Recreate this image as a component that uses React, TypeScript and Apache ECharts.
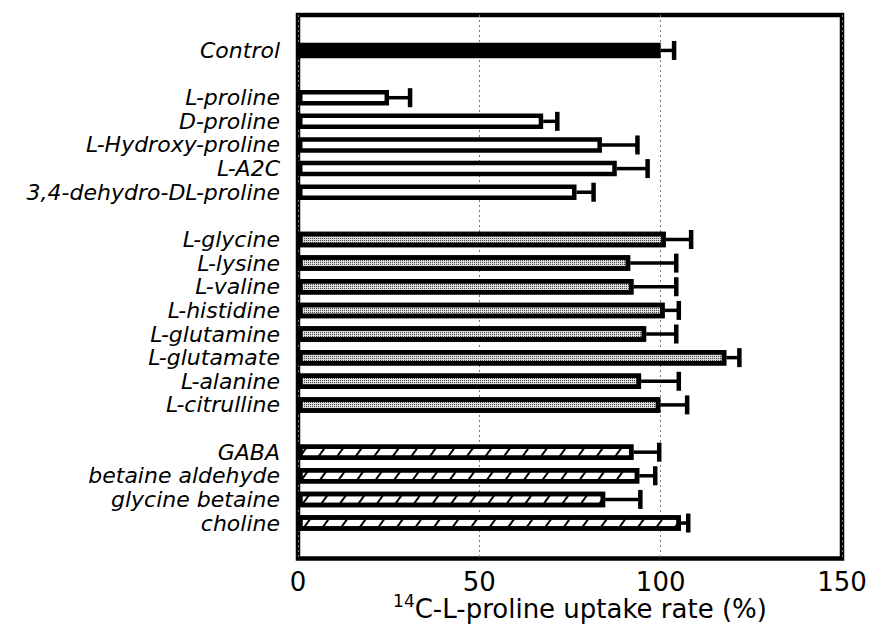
import React, { useEffect, useRef } from "react";
import * as echarts from "echarts";

// Category slots (blank slots are spacer rows)
const categories = [
  "", "Control", " ",
  "L-proline", "D-proline", "L-Hydroxy-proline", "L-A2C", "3,4-dehydro-DL-proline", "  ",
  "L-glycine", "L-lysine", "L-valine", "L-histidine", "L-glutamine", "L-glutamate", "L-alanine", "L-citrulline", "   ",
  "GABA", "betaine aldehyde", "glycine betaine", "choline", "    ",
];

const controlNames = ["Control"];
const controlValues = [100];
const controlErrors = [3.7];

const prolineNames = ["L-proline", "D-proline", "L-Hydroxy-proline", "L-A2C", "3,4-dehydro-DL-proline"];
const prolineValues = [25.1, 67.6, 83.8, 87.9, 76.8];
const prolineErrors = [5.8, 3.9, 9.8, 8.5, 4.7];

const aminoNames = ["L-glycine", "L-lysine", "L-valine", "L-histidine", "L-glutamine", "L-glutamate", "L-alanine", "L-citrulline"];
const aminoValues = [101.4, 91.6, 92.5, 101.1, 96.0, 118.1, 94.6, 99.9];
const aminoErrors = [7.0, 12.7, 11.8, 3.9, 8.3, 3.6, 10.4, 7.4];

const osmoNames = ["GABA", "betaine aldehyde", "glycine betaine", "choline"];
const osmoValues = [92.5, 94.1, 84.7, 105.6];
const osmoErrors = [7.1, 4.4, 9.7, 2.0];

const xTicks = [0, 50, 100, 150];

const FONT = "DejaVu Sans";

function toSlots(names: string[], values: number[]) {
  return categories.map((c) => {
    const i = names.indexOf(c);
    return i >= 0 ? values[i] : "-";
  });
}

export default function App() {
  const ref = useRef<HTMLDivElement>(null);
  useEffect(() => {
    if (!ref.current) return;
    const chart = echarts.init(ref.current, null, { renderer: "svg" });

    const errData: any[] = [];
    const addErr = (n: string[], v: number[], e: number[]) =>
      n.forEach((name, i) => errData.push([v[i], name, e[i]]));
    addErr(controlNames, controlValues, controlErrors);
    addErr(prolineNames, prolineValues, prolineErrors);
    addErr(aminoNames, aminoValues, aminoErrors);
    addErr(osmoNames, osmoValues, osmoErrors);

    const barCommon = {
      type: "bar",
      barWidth: 15.5,
      barGap: "-100%",
      silent: true,
    };

    chart.setOption({
      animation: false,
      backgroundColor: "#fff",
      grid: {
        left: 298,
        right: 28,
        top: 15,
        bottom: 70.5,
        containLabel: false,
        outerBoundsMode: "none",
        show: true,
        borderColor: "#000",
        borderWidth: 4.5,
        backgroundColor: "transparent",
      },
      xAxis: {
        type: "value",
        min: xTicks[0],
        max: xTicks[xTicks.length - 1],
        interval: 50,
        axisLine: { show: false },
        axisTick: { show: false },
        axisLabel: { fontSize: 26, lineHeight: 20, color: "#000", fontFamily: FONT, margin: 13 },
        splitLine: { show: true, lineStyle: { type: [2, 3], color: "#777", width: 1 } },
        name: "{sup|14}C-L-proline uptake rate (%)",
        nameLocation: "middle",
        nameGap: 33.5,
        nameMoveOverlap: false,
        nameTextStyle: {
          fontSize: 26,
          lineHeight: 34,
          color: "#000",
          fontFamily: FONT,
          padding: [0, 0, 0, 20],
          rich: {
            sup: { fontSize: 17, lineHeight: 5, verticalAlign: "top", color: "#000", fontFamily: FONT },
          },
        },
      },
      yAxis: {
        type: "category",
        data: categories,
        inverse: true,
        axisLine: { show: false },
        axisTick: { show: false },
        splitLine: { show: false },
        axisLabel: {
          interval: 0,
          fontSize: 22,
          fontStyle: "italic",
          color: "#000",
          fontFamily: FONT,
          margin: 18,
        },
      },
      series: [
        {
          ...barCommon,
          data: toSlots(controlNames, controlValues),
          itemStyle: { color: "#000", borderColor: "#000", borderWidth: 4.5 },
        },
        {
          ...barCommon,
          data: toSlots(prolineNames, prolineValues),
          itemStyle: { color: "#fff", borderColor: "#000", borderWidth: 4.5 },
        },
        {
          ...barCommon,
          data: toSlots(aminoNames, aminoValues),
          itemStyle: {
            color: "#dcdcdc",
            borderColor: "#000",
            borderWidth: 4.5,
            decal: {
              symbol: "rect",
              symbolSize: 1,
              dashArrayX: [1, 1],
              dashArrayY: [1, 1],
              color: "#444",
              rotation: 0,
            },
          },
        },
        {
          ...barCommon,
          data: toSlots(osmoNames, osmoValues),
          itemStyle: {
            color: "#fff",
            borderColor: "#000",
            borderWidth: 4.5,
            decal: {
              symbol: "rect",
              symbolSize: 1,
              dashArrayX: [[1, 0]],
              dashArrayY: [2, 13],
              color: "#000",
              rotation: -Math.PI * 0.3,
            },
          },
        },
        {
          type: "custom",
          silent: true,
          data: errData,
          encode: { x: 0, y: 1 },
          z: 3,
          renderItem: (params: any, api: any) => {
            const v = api.value(0);
            const cat = api.value(1);
            const e = api.value(2);
            const start = api.coord([v, cat]);
            const end = api.coord([v + e, cat]);
            const h = 9.5;
            return {
              type: "group",
              children: [
                {
                  type: "line",
                  shape: { x1: start[0], y1: start[1], x2: end[0], y2: end[1] },
                  style: { stroke: "#000", lineWidth: 3.5 },
                },
                {
                  type: "line",
                  shape: { x1: end[0], y1: end[1] - h, x2: end[0], y2: end[1] + h },
                  style: { stroke: "#000", lineWidth: 4.5 },
                },
              ],
            };
          },
        },
      ],
    });
    return () => chart.dispose();
  }, []);
  return (
    <div
      ref={ref}
      style={{ position: "absolute", left: 0, top: 0, width: 870, height: 629 }}
    />
  );
}
